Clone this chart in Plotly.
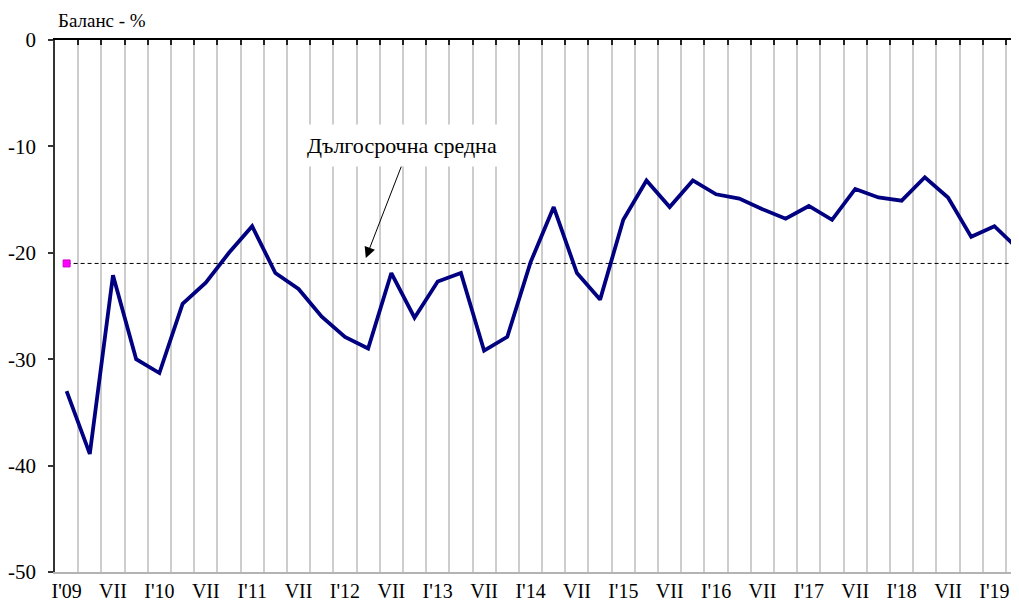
import plotly.graph_objects as go

# Quarterly balance values, I'09 .. II'19
balance = [-33.0, -38.9, -22.1, -30.0, -31.3, -24.8, -22.8, -20.0, -17.5, -21.9,
           -23.4, -26.0, -27.9, -29.0, -21.9, -26.1, -22.7, -21.9, -29.2, -27.9,
           -20.9, -15.7, -21.9, -24.4, -16.9, -13.2, -15.7, -13.2, -14.5, -14.9,
           -15.9, -16.8, -15.6, -16.9, -14.0, -14.8, -15.1, -12.9, -14.8, -18.5,
           -17.5, -19.6]
long_term_avg = -21.0
tick_labels = ["I'09", "VII", "I'10", "VII", "I'11", "VII", "I'12", "VII", "I'13", "VII",
               "I'14", "VII", "I'15", "VII", "I'16", "VII", "I'17", "VII", "I'18", "VII", "I'19"]
y_ticks = [0, -10, -20, -30, -40, -50]

n = len(balance)
xs = list(range(n))
label_pos = [2 * i for i in range(len(tick_labels))]
grid_pos = [i + 0.5 for i in range(n - 1)]

FONT = "Liberation Serif"

fig = go.Figure()
fig.add_trace(go.Scatter(x=xs, y=[long_term_avg] * n, mode="lines",
                         line=dict(color="black", width=1, dash="4px,3px"),
                         hoverinfo="skip", showlegend=False))
fig.add_trace(go.Scatter(x=xs, y=balance, mode="lines",
                         line=dict(color="#000080", width=3.8),
                         showlegend=False))
fig.add_trace(go.Scatter(x=[xs[0]], y=[long_term_avg], mode="markers", xaxis="x2",
                         marker=dict(symbol="square", size=7, color="#ff00ff",
                                     line=dict(color="#cc00cc", width=1)),
                         showlegend=False))

xr = [-0.5, 41.06]
fig.update_layout(
    width=1011, height=598,
    margin=dict(l=47, r=0, t=32, b=34),
    plot_bgcolor="white", paper_bgcolor="white",
    font=dict(family=FONT, size=20, color="black"),
    xaxis=dict(range=xr, tickmode="array", tickvals=label_pos, ticktext=tick_labels,
               ticks="", showgrid=False, zeroline=False, automargin=False,
               showline=True, linecolor="#b4b4b4", linewidth=2,
               minor=dict(tickvals=grid_pos, showgrid=True, gridcolor="#cdcdcd",
                          gridwidth=1.5, ticks=""),
               tickfont=dict(family=FONT, size=20)),
    xaxis2=dict(range=xr, overlaying="x", side="top", anchor="y", automargin=False,
                tickmode="array", tickvals=grid_pos, ticks="inside", ticklen=5,
                tickwidth=2, tickcolor="#222222", showticklabels=False,
                showgrid=False, zeroline=False,
                showline=True, linecolor="black", linewidth=1.5),
    yaxis=dict(range=[-50, 0], tickmode="array", tickvals=y_ticks,
               ticktext=[str(v) for v in y_ticks], automargin=False,
               ticks="outside", ticklen=5, tickwidth=1.5, tickcolor="#333333",
               showgrid=False, zeroline=False,
               showline=True, linecolor="#333333", linewidth=1.5,
               ticklabelstandoff=8,
               tickfont=dict(family=FONT, size=21)),
)

fig.add_annotation(xref="paper", yref="paper", x=0, y=1, xanchor="left", yanchor="bottom",
                   xshift=1, yshift=7, text="Баланс - %", showarrow=False,
                   font=dict(family=FONT, size=19))
fig.add_annotation(x=14.46, y=-9.9, text="Дългосрочна средна", showarrow=False,
                   bgcolor="white", borderpad=8, font=dict(family=FONT, size=22))
fig.add_annotation(x=12.9, y=-20.5, ax=36, ay=-93, text="", showarrow=True,
                   arrowhead=2, arrowsize=2.2, arrowwidth=1, arrowcolor="black")

fig.write_html("out.html")
